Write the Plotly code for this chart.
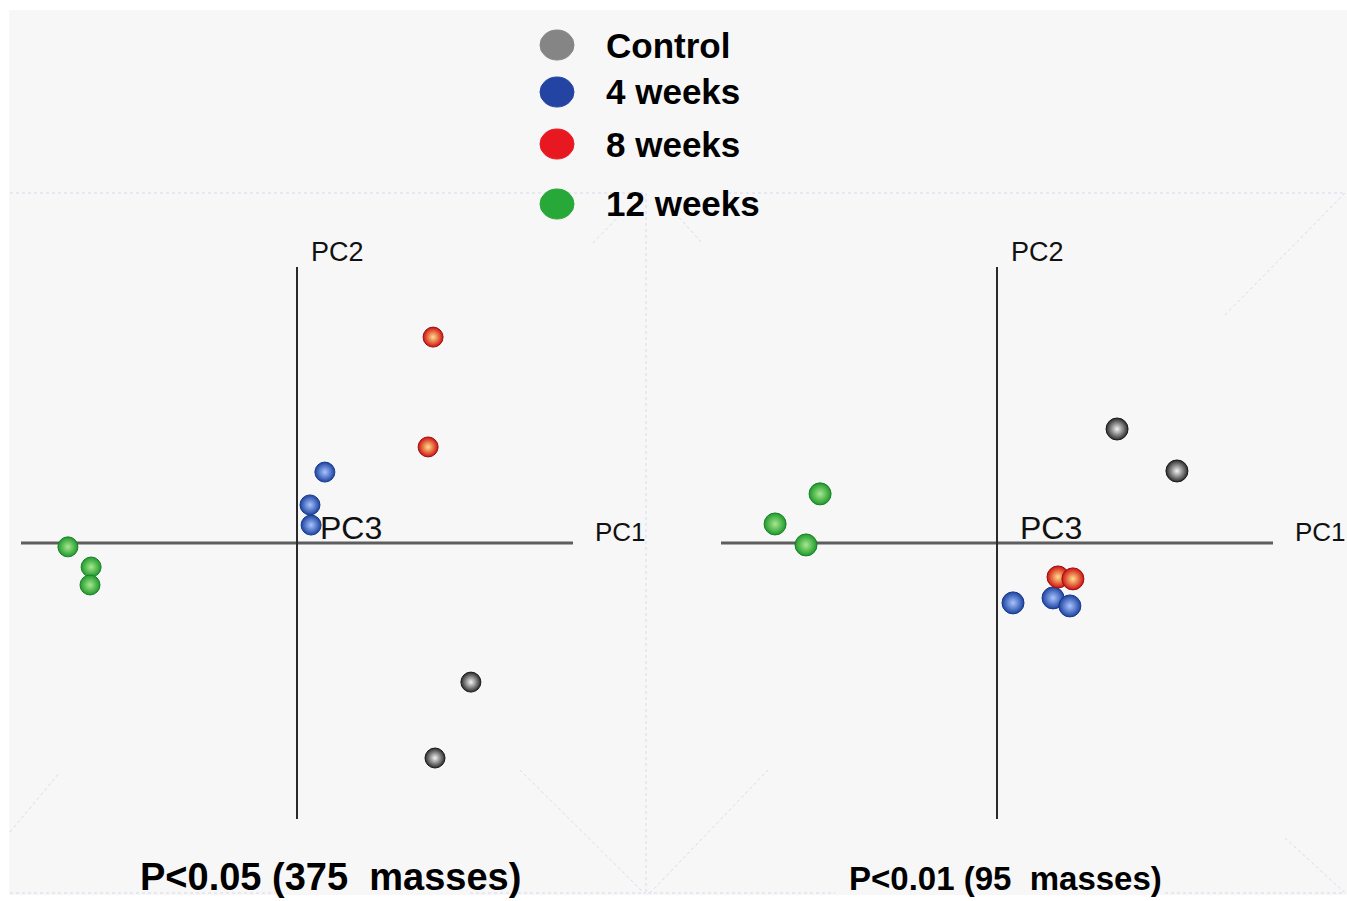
import plotly.graph_objects as go

# ---------------- data (PC scores, axis half-length = 1) ----------------
groups = ["Control", "4 weeks", "8 weeks", "12 weeks"]

# Left panel: P<0.05 (375 masses)
left_pc1 = {
    "Control": [0.630, 0.500],
    "4 weeks": [0.101, 0.047, 0.051],
    "8 weeks": [0.493, 0.475],
    "12 weeks": [-0.830, -0.746, -0.750],
}
left_pc2 = {
    "Control": [-0.504, -0.779],
    "4 weeks": [0.257, 0.138, 0.065],
    "8 weeks": [0.746, 0.348],
    "12 weeks": [-0.014, -0.087, -0.152],
}

# Right panel: P<0.01 (95 masses)
right_pc1 = {
    "Control": [0.435, 0.652],
    "4 weeks": [0.058, 0.203, 0.264],
    "8 weeks": [0.221, 0.275],
    "12 weeks": [-0.641, -0.804, -0.692],
}
right_pc2 = {
    "Control": [0.413, 0.261],
    "4 weeks": [-0.217, -0.199, -0.228],
    "8 weeks": [-0.123, -0.130],
    "12 weeks": [0.178, 0.069, -0.007],
}

panel_titles = ["P<0.05 (375\u00a0 masses)", "P<0.01 (95\u00a0 masses)"]
axis_labels = ["PC1", "PC2", "PC3"]

# ---------------- styles ----------------
W, H = 1347, 901
edge_col = {"Control": "#2a2a2a", "4 weeks": "#1c43a0", "8 weeks": "#d01010", "12 weeks": "#1f9a2a"}
center_col = {"Control": "#f4f4f4", "4 weeks": "#a9c4ff", "8 weeks": "#ffe08a", "12 weeks": "#a8e890"}
legend_col = {"Control": "#858585", "4 weeks": "#2444a4", "8 weeks": "#e81820", "12 weeks": "#27a838"}
line_col = {"Control": "#1a1a1a", "4 weeks": "#163a8a", "8 weeks": "#9a1010", "12 weeks": "#17802a"}
sizes = {"left": 20, "right": 22}

def px(x):
    return x / W

def py(y):
    return 1 - y / H

# axis origin pixels, scale 276 px per unit
S = 276.0
ox_left, ox_right, oy = 297.0, 997.0, 543.0
xr_left = [-ox_left / S, (W * 0.5 - ox_left) / S]
xr_right = [-(ox_right - W * 0.5) / S, (W - ox_right) / S]
yr = [-(H - oy) / S, oy / S]

fig = go.Figure()

for g in groups:
    fig.add_trace(go.Scatter(
        x=left_pc1[g], y=left_pc2[g], mode="markers", name=g, showlegend=False,
        xaxis="x", yaxis="y",
        marker=dict(size=sizes["left"], color=edge_col[g],
                    gradient=dict(type="radial", color=center_col[g]),
                    line=dict(color=line_col[g], width=1)),
    ))
    fig.add_trace(go.Scatter(
        x=right_pc1[g], y=right_pc2[g], mode="markers", name=g, showlegend=False,
        xaxis="x2", yaxis="y2",
        marker=dict(size=sizes["right"], color=edge_col[g],
                    gradient=dict(type="radial", color=center_col[g]),
                    line=dict(color=line_col[g], width=1)),
    ))

shapes = []
annotations = []

# background panel
shapes.append(dict(type="rect", xref="paper", yref="paper", x0=px(9), x1=1, y0=py(895), y1=py(10),
                   fillcolor="#f7f7f7", line=dict(width=0), layer="below"))

# faint 3D box edges
faint = dict(color="#d9d9ee", width=1, dash="dot")
for (x0, y0, x1, y1) in [
    (10, 193, 646, 193), (646, 193, 646, 893), (10, 893, 275, 893), (470, 893, 646, 893),
    (648, 893, 835, 893), (1165, 893, 1345, 893), (728, 193, 1345, 193),
    (593, 243, 622, 213), (675, 213, 702, 243), (1345, 193, 1225, 315),
    (520, 770, 644, 893), (650, 893, 768, 770), (1285, 838, 1345, 893), (10, 832, 60, 772),
]:
    shapes.append(dict(type="line", xref="paper", yref="paper", x0=px(x0), y0=py(y0),
                       x1=px(x1), y1=py(y1), line=faint, layer="below"))

# PC axes cross in each panel
for xa, ya in [("x", "y"), ("x2", "y2")]:
    shapes.append(dict(type="line", xref=xa, yref=ya, x0=-1.0, x1=1.0, y0=0, y1=0,
                       line=dict(color="#5e5e5e", width=3), layer="below"))
    shapes.append(dict(type="line", xref=xa, yref=ya, x0=0, x1=0, y0=-1.0, y1=1.0,
                       line=dict(color="#2a2a2a", width=2), layer="below"))
    annotations.append(dict(xref=xa, yref=ya, x=1.072, y=0.0, text=axis_labels[0], showarrow=False,
                            xanchor="left", yanchor="bottom", yshift=-6,
                            font=dict(family="Liberation Sans, Arial", size=26, color="#111")))
    annotations.append(dict(xref=xa, yref=ya, x=0.045, y=1.0, text=axis_labels[1], showarrow=False,
                            xanchor="left", yanchor="bottom", yshift=-2,
                            font=dict(family="Liberation Sans, Arial", size=27, color="#111")))
    annotations.append(dict(xref=xa, yref=ya, x=0.075, y=0.0, text=axis_labels[2],
                            showarrow=False, xanchor="left", yanchor="bottom", yshift=-5,
                            font=dict(family="Liberation Sans, Arial", size=32, color="#111")))

# panel titles
annotations.append(dict(xref="paper", yref="paper", x=px(330), y=py(877), text="<b>" + panel_titles[0] + "</b>",
                        showarrow=False, xanchor="center", yanchor="middle",
                        font=dict(family="Liberation Sans, Arial", size=38, color="#000")))
annotations.append(dict(xref="paper", yref="paper", x=px(1005), y=py(878), text="<b>" + panel_titles[1] + "</b>",
                        showarrow=False, xanchor="center", yanchor="middle",
                        font=dict(family="Liberation Sans, Arial", size=33, color="#000")))

# custom legend
legend_y = [45, 92, 144, 204]
for g, ly in zip(groups, legend_y):
    shapes.append(dict(type="circle", xref="paper", yref="paper",
                       x0=px(540), x1=px(574), y0=py(ly + 15), y1=py(ly - 15),
                       fillcolor=legend_col[g], line=dict(color=legend_col[g], width=1)))
    annotations.append(dict(xref="paper", yref="paper", x=px(604), y=py(ly), text="<b>" + g + "</b>",
                            showarrow=False, xanchor="left", yanchor="middle",
                            font=dict(family="Liberation Sans, Arial", size=35, color="#000")))

ax_common = dict(showgrid=False, zeroline=False, showticklabels=False, ticks="", showline=False,
                 fixedrange=True)

fig.update_layout(
    width=W, height=H,
    margin=dict(l=0, r=0, t=0, b=0, pad=0),
    paper_bgcolor="#ffffff", plot_bgcolor="rgba(0,0,0,0)",
    showlegend=False,
    xaxis=dict(domain=[0, 0.5], range=xr_left, anchor="y", **ax_common),
    yaxis=dict(domain=[0, 1], range=yr, anchor="x", **ax_common),
    xaxis2=dict(domain=[0.5, 1], range=xr_right, anchor="y2", **ax_common),
    yaxis2=dict(domain=[0, 1], range=yr, anchor="x2", **ax_common),
    shapes=shapes,
    annotations=annotations,
)

fig.write_html("out.html", config={"displayModeBar": False},
               post_script="document.body.style.margin='0';document.body.style.padding='0';")
